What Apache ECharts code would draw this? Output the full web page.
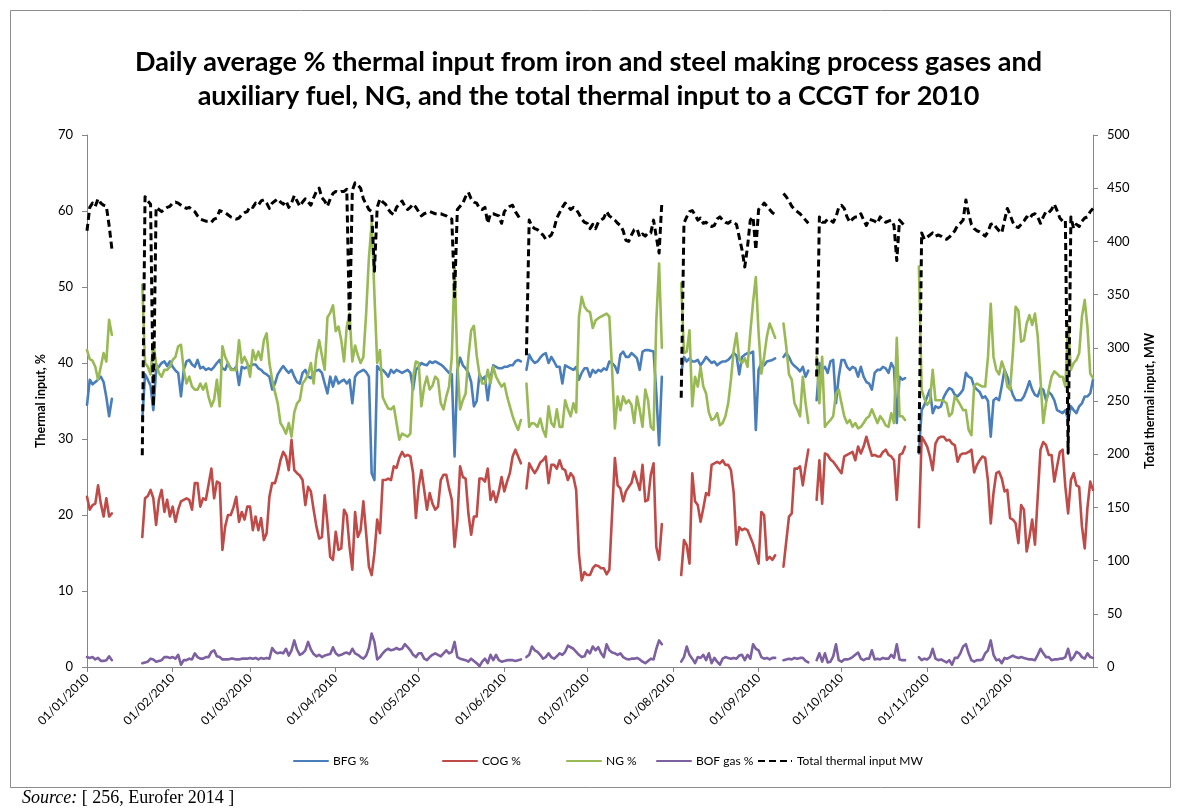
<!DOCTYPE html>
<html>
<head>
<meta charset="utf-8">
<script src="https://cdn.jsdelivr.net/npm/echarts@6/dist/echarts.min.js"></script>
<style>
html,body{margin:0;padding:0;background:#fff;}
#chart{width:1177px;height:809px;}
</style>
</head>
<body>
<div id="chart"></div>
<script>
const _ = null;
const YEAR = 2010;
const DAYS_IN_MONTH = [31,28,31,30,31,30,31,31,30,31,30,31];
const LEFT_TICKS = {min:0, max:70, step:10};
const RIGHT_TICKS = {min:0, max:500, step:50};

// Daily values, one sub-array per month (Jan..Dec)
const BFG_PCT = [
 [34.5,37.8,37.2,37.5,37.8,38.2,37.5,35.5,33,35.3,_,_,_,_,_,_,_,_,_,_,32.5,38.5,37.8,37,33.8,39,39.5,40,40.2,39.6,40.2],
 [39.5,39.0,38.7,35.6,39.1,40.2,40.4,39.8,39.5,40.4,39.3,39.5,39.1,39.3,39.1,39.5,40.0,40.4,39.3,39.1,40.0,39.3,39.1,39.5,37.1,39.5,39.3,39.5],
 [39.6,39.8,39.8,39.3,39.1,38.7,38.5,38.2,36.5,37.3,38.5,39.1,39.6,39.1,38.7,39.1,38.2,37.5,37.3,38.7,39.1,38.2,38.0,38.7,39.0,39.1,38.7,37.3,36.0,38.2,36.9],
 [38.2,37.3,37.6,37.8,37.3,37.8,34.7,38.2,38.7,38.9,39.1,38.8,38.2,25.5,24.6,39.6,39.1,39.1,38.7,38.2,39.1,38.7,39.1,38.9,38.7,38.9,39.1,38.7,36.5,39.1],
 [39.5,40,39.8,39.7,40.2,40,40.2,40,39.8,39.5,39.1,38.7,38.5,27.7,39.1,40.7,39.7,39.3,38.7,37.5,34.3,35,38.5,37.8,38.2,35.1,38,39.7,39.5,39.3,39.3],
 [39.5,39.5,39.7,39.7,40.2,40.4,40.2,_,39.1,41.1,40.4,40,40.2,40.7,41.1,41.3,40,40.8,40.2,39.5,39.5,37.3,39.7,39.5,39.3,39.1,39.5,37.8,38.7,39.3],
 [39.3,38.2,39.1,38.7,39.1,38.9,39.3,39.1,40.2,40,39.6,38.7,41.1,41.5,40.8,40.8,41.3,41,40.6,39.1,41.5,41.7,41.7,41.6,41.5,36,29.2,38.2,_,_,_],
 [_,_,_,38.7,40.8,40.2,40.6,40.2,40.2,40.4,39.7,40.2,40.8,40.4,40,40.2,39.7,40,40.2,40.2,40.4,40.8,41.3,41,38.5,40.8,41.1,41.3,41.3,41.5,31.2],
 [39.1,40,39.7,40.2,40.3,40.4,40.6,_,_,40.8,41.3,40.8,40,39.6,39.3,38.9,39.5,38.2,39,_,_,35.1,40,39.1,39.5,38.7,40.2,40.4,34.7,38.2],
 [40.4,40.4,39.5,39.1,39.5,39.3,38.2,39.5,38.2,37.5,37.3,36.5,38.7,39.1,39.1,39.5,39.3,38.7,40,39.3,32.1,38.2,37.8,38,_,_,_,_,28.1,33.8,34.5],
 [35.6,36.5,33.4,34.3,34.1,34.3,35.5,36.2,36.7,36.5,35.8,35.6,36,36.5,38.7,38.2,38,36.9,36.5,36.2,35.4,35.6,35,30.3,35.1,35.4,35.1,37,39.1,38.2],
 [36.9,35.8,35.1,35.1,35.1,35.6,36.5,37.6,36.5,35.8,35.6,36.7,36.5,35.1,36.2,35.8,35.1,33.8,33.6,33.4,33.8,32.5,34.3,33.8,33.4,34.3,34.7,35.6,35.6,36,37.8]
];
const COG_PCT = [
 [22.4,20.7,21.3,21.5,23.9,21.5,19.8,22.2,19.8,20.2,_,_,_,_,_,_,_,_,_,_,17.1,22.2,22.5,23.3,22.2,18.7,22,23.3,20.4,22,19.8],
 [21.1,19.1,20.7,21.8,22,22.2,22,20.7,24.2,24.2,21.1,22.2,22,24,26.1,22.2,24.4,24.2,15.4,18.5,20,20,21,22.4,19.1,20.4,19.4,21.1],
 [21.1,18.0,19.8,18.0,19.6,16.7,17.6,22.4,24.2,24.2,25.5,27.2,28.3,27.7,25.9,29.9,25.9,25.5,25.2,24.6,21.3,23.7,23.1,20.7,18.5,16.9,17.1,22.6,18.9,14.5,14.1],
 [17.8,15.4,15.6,20.7,20,15.8,12.8,20.4,17.1,18,21.8,17.6,13.2,12.1,15,19.4,17.6,24.6,24.6,24.8,24.6,26.4,26.2,27.5,28.3,27.7,27.9,27.7,25.5,19.6],
 [23.7,25.9,23.3,20.7,22.9,21.5,20.7,21.1,24.6,25.3,25.3,23.5,22,15.8,19.4,26.4,25,24.8,20.2,17.4,19.8,19.8,24.8,24.8,24.4,26.1,22,23.1,21.7,23.1,25],
 [23.1,24.4,25.5,27.7,28.6,27.7,26.8,_,23.5,26.8,26.1,25.5,26.1,26.9,27.2,27.7,24.2,26.6,26.6,26.1,27.2,26.1,25.9,24.6,25.5,25,23.3,14.9,11.4,12.5],
 [12.1,12.1,13,13.4,13.3,13,13,12.2,12.8,20.2,27.5,23.9,23.5,21.8,23.1,23.7,24.2,25.7,24.5,23.3,26.6,21.8,22,25.3,26.8,15.8,14.1,18.8,_,_,_],
 [_,_,_,12.1,16.7,16,13.6,25.5,21.8,21.3,19.1,20.9,22.9,22.6,26.6,26.8,27,26.8,27.2,26.6,26.6,25.9,22.9,16.1,18.4,18,18.2,18,17.1,16.2,14.9],
 [13.6,20.4,20,14.1,14.5,14.1,14.7,_,_,13.2,16.5,19.8,20.2,26.1,26.1,26.4,23.9,26.4,28.6,_,_,22,27.2,21.5,28.1,27.9,27.3,27,26.5,26],
 [25.5,27.7,27.9,28.1,28.3,27.2,29,28.1,29,30.3,29,27.8,27.9,27.7,27.7,28.3,28.6,27.9,27.7,27.2,22,27.9,28.1,29,_,_,_,_,18.4,30.3,29.7],
 [29,27.7,25.9,29.4,30.1,30.3,30.3,29.8,29.9,29.4,29.2,27,27.9,28.1,28.1,28.3,28.6,25.6,26.6,27.2,27.7,27.5,24.5,18.9,22.9,25.5,25.7,24.8,23.1,23.3],
 [19.6,19.4,18.9,16.3,21.3,20.7,15.2,17.1,19.4,16.1,22.4,28.6,29.6,29.2,27.9,27.9,24.4,26.4,28.3,28.6,23.7,20.2,24.6,25.5,23.9,23.7,18.5,15.6,21,24.4,23.3]
];
const NG_PCT = [
 [41.7,40.5,40.3,39.5,37.8,39.5,41.3,40.2,45.7,43.7,_,_,_,_,_,_,_,_,_,_,50.3,40,39.5,38.5,42.6,40,38.7,38.2,39.1,39.1,39.5],
 [40.4,40.8,42.2,42.4,39.1,37.3,38.2,36.9,36.5,36.5,37.3,36.5,37.3,35.5,34.3,35.2,37.8,34.3,42.2,40.8,40,39.1,39.1,39.1,43,40,40.8,40],
 [38.2,41.7,40.4,41.5,40.4,43,43.9,40,37.8,36.2,34.7,32.1,31.5,30.7,32.1,30.3,33.5,34.7,35.1,37.3,37.8,38.5,40,37.3,41,43,41,39.1,46,46.6,47.6],
 [44.2,44.8,43,40.2,44.8,46.5,40.2,42.3,41,40,40.8,46.5,53.8,58.4,49,40,41.7,35.5,34.7,34,33.9,34.3,32.1,29.9,30.7,30.5,30.3,30.7,38.2,40.2],
 [40,34.3,36.9,38.2,36.5,37,38.2,37.8,34.7,33.9,35.6,36.9,40.8,52.9,40,33.9,35.1,36,40.8,44.3,44.9,41,38.5,37.3,37.3,39.1,37.3,39.5,38.2,37.5,36.9],
 [37.3,35.6,34.3,33,32,31.2,32.5,_,37.3,31.6,32.1,32,31.6,32.7,31.2,30.3,34.3,32.1,31.6,33.9,31.6,31.6,35.1,33.9,33,34.7,33.5,46.1,48.7,47.4],
 [46.9,46.7,44.6,45.6,45.9,46.1,46.3,46.5,46.1,39.1,31.4,35.6,33.8,35.6,34.7,35.1,34.5,32.1,35.6,33.8,31.6,36.5,35.1,31.6,31.2,45.6,53.1,42,_,_,_],
 [_,_,_,50.5,41.3,41.5,44.3,34.3,38.2,36.9,39.5,36.9,36,33.5,32.5,32.7,33.4,31.8,32.1,33,34.7,37.8,41.7,43.9,40.5,40,40.6,39.5,44,48,51.3],
 [44,38.6,40.8,43.5,45.2,44.3,43.3,_,_,45.2,42.2,38.5,37.8,34.7,33.9,33,38.2,34.7,32.1,_,_,40.8,34.7,40.8,31.6,32.1,32.5,33,36,36.5],
 [34.7,33,32.1,32.5,31.6,32.1,31.4,31.6,32.1,32.7,33,33.9,33,32.1,33,32.5,31.8,31.6,33.4,32.1,43.3,33,33,32.5,_,_,_,_,52.7,36.5,35.3],
 [34.5,35,39.1,35.1,35.1,35.1,35,34.7,33,33.4,35.6,35.1,34.5,33.8,33.8,31.2,30.5,37,37.3,37.1,36.9,36.9,40.8,47.8,40.8,39.1,38.5,40.2,39.1,36.9],
 [36.5,41.3,47.4,46.9,42.8,43,45.2,46.3,45,46.5,43.5,37.8,32.1,34.7,36.5,38.2,38.9,38.6,38.2,38.2,36.9,45,39.1,40,40.4,41.3,46.1,48.3,44.7,38.6,38]
];
const BOF_PCT = [
 [1.3,1.2,1.3,1.0,1.2,0.8,0.8,0.9,1.4,0.9,_,_,_,_,_,_,_,_,_,_,0.5,0.6,0.7,1.1,1.0,0.7,0.8,0.9,1.3,1.3,1.2],
 [1.3,1.1,1.6,0.3,0.9,0.9,1.1,1.0,1.8,1.3,1.1,1.1,1.3,1.3,2.0,2.2,1.4,1.3,1.0,1.0,1.0,1.1,1.1,1.0,1.0,1.1,1.1,1.1],
 [1.2,1.1,1.2,1.0,1.2,1.1,1.2,1.1,2.5,2.0,1.8,1.9,1.8,2.4,1.5,2.2,3.5,2.3,1.6,1.8,2.2,3.3,2.3,1.7,1.4,1.6,1.3,1.5,1.6,1.7,2.6],
 [1.8,1.5,1.6,1.8,1.9,1.7,2.4,1.8,1.6,1.3,1.1,1.5,2.5,4.4,3.3,1.0,1.3,1.8,2.2,2.4,2.2,2.3,2.5,2.3,2.4,3.0,2.6,2.2,1.6,1.3],
 [1.8,1.8,1.1,0.9,1.3,1.6,1.8,1.6,1.4,1.8,2.2,1.8,2.0,3.3,1.3,1.1,1.0,0.9,0.7,1.1,0.8,0.5,0.1,0.7,1.1,0.5,1.6,0.9,1.6,0.9,0.7],
 [0.8,0.9,0.9,0.9,0.8,0.9,1.0,_,1.3,1.6,2.7,2.2,2.0,1.6,1.1,1.3,1.8,1.3,1.1,1.4,1.8,1.6,2.0,2.8,2.6,2.4,2.0,1.6,1.3,1.4],
 [2.2,1.8,2.7,2.2,2.6,1.8,1.3,3.0,2.2,1.9,1.8,1.6,1.8,1.3,1.1,1.0,1.1,1.1,1.2,1.0,0.7,0.5,0.8,1.1,1.0,2.4,3.5,3.0,_,_,_],
 [_,_,_,0.7,1.3,2.7,1.6,1.1,0.5,1.3,1.2,1.6,0.9,1.8,0.5,1.2,0.7,0.3,1.1,1.3,1.2,1.1,1.2,1.1,1.5,1.6,0.9,1.6,1.1,3.0,2.4],
 [2.2,1.3,1.1,1.2,1.0,1.2,1.2,_,_,0.9,1.0,1.1,1.0,1.2,1.1,1.2,1.2,0.8,0.6,_,_,0.9,1.8,0.7,1.8,0.6,0.7,1.4,3.0,0.9],
 [0.7,1.0,1.0,1.1,1.3,1.6,1.9,1.1,0.9,1.1,1.1,2.2,1.0,1.1,1.0,1.2,1.1,1.1,1.6,1.2,3.0,1.0,0.9,0.9,_,_,_,_,1.3,0.9,1.1],
 [1.0,1.3,2.4,1.1,0.9,1.0,0.8,0.6,0.9,0.3,1.2,1.2,1.8,2.7,3.0,1.8,0.9,0.7,0.9,0.9,1.0,1.8,2.2,3.5,1.6,0.9,1.0,0.5,1.2,1.1],
 [1.3,1.5,1.3,1.2,1.3,1.2,1.1,1.0,1.0,0.9,1.6,2.4,1.8,1.3,1.3,0.9,1.0,1.0,1.1,1.1,1.3,2.4,0.9,1.3,2.0,1.8,1.3,1.1,1.8,1.3,1.2]
];
const TOTAL_MW = [
 [410,432,436,433,440,436,434,433,415,393,_,_,_,_,_,_,_,_,_,_,199,442,438,435,245,432,430,428,430,432,433],
 [436,437,436,434,432,431,432,430,428,424,421,420,419,419,418,421,422,429,428,427,425,423,422,421,422,425,427,428],
 [433,432,436,434,438,439,436,431,436,438,440,437,435,438,432,436,443,438,433,437,440,437,434,441,447,450,441,438,433,440,445],
 [447,446,447,447,449,318,448,455,453,450,440,435,430,428,372,432,440,437,435,430,427,425,432,435,438,433,430,432,435,432],
 [428,424,426,427,428,427,426,426,426,425,424,422,421,348,430,433,436,442,446,440,437,436,431,430,432,417,426,426,425,424,417],
 [428,431,433,434,428,424,420,_,293,420,414,412,411,408,406,402,404,406,412,422,427,432,436,433,430,432,430,426,421,418],
 [417,412,416,412,418,420,422,428,424,422,420,417,415,410,401,400,406,411,412,404,407,405,408,408,420,404,389,437,_,_,_],
 [_,_,_,253,417,423,428,429,425,420,422,417,418,415,414,415,421,423,420,418,417,419,418,416,404,392,376,395,420,423,392],
 [430,432,436,433,430,427,425,_,_,445,442,438,433,430,428,426,423,420,417,_,_,273,423,418,418,421,420,418,423,432],
 [434,431,423,418,421,423,423,426,420,415,421,420,419,417,423,420,418,419,420,415,382,420,417,414,_,_,_,_,201,408,402],
 [404,406,408,405,406,405,403,402,404,407,410,415,417,420,439,426,416,412,410,409,407,405,409,416,417,413,410,408,420,431],
 [425,418,414,413,416,419,423,421,425,426,423,417,423,428,427,430,435,429,422,419,420,201,423,412,416,414,419,422,423,428,431]
];

function flatten(months){
  const out = [];
  months.forEach((arr, i) => {
    const n = DAYS_IN_MONTH[i];
    for (let k = 0; k < n; k++) out.push(k < arr.length ? arr[k] : null);
  });
  return out;
}
const pad = n => (n < 10 ? '0' : '') + n;
const DATES = [];
DAYS_IN_MONTH.forEach((n, m) => { for (let d = 1; d <= n; d++) DATES.push(pad(d) + '/' + pad(m + 1) + '/' + YEAR); });

const isMonthStart = (idx, val) => String(val).slice(0, 2) === '01';
const FONT = 'Lato, "Liberation Sans", sans-serif';
const AXIS_COLOR = '#868686';

const chart = echarts.init(document.getElementById('chart'), null, {renderer: 'canvas'});
const mkSeries = (name, data, color, yIdx, extra) => Object.assign({
  name, type: 'line', data: flatten(data), yAxisIndex: yIdx,
  showSymbol: false, symbol: 'none', connectNulls: false,
  lineStyle: {color, width: 2.6, cap: 'round', join: 'round'},
  itemStyle: {color}, z: 2, emphasis: {disabled: true}
}, extra || {});

const legendBase = (name, left) => ({
  data: [name], left, top: 755, padding: 0, itemWidth: 34, itemHeight: 12, itemGap: 0,
  itemStyle: {opacity: 0},
  textStyle: {fontFamily: FONT, fontSize: 12, color: '#000'}, selectedMode: false
});

chart.setOption({
  animation: false,
  backgroundColor: '#fff',
  title: {
    text: 'Daily average % thermal input from iron and steel making process gases and\nauxiliary fuel, NG, and the total thermal input to a CCGT for 2010',
    left: 'center', top: 40,
    textStyle: {fontFamily: FONT, fontSize: 27, fontWeight: 'bold', color: '#000', lineHeight: 34}
  },
  legend: [
    legendBase('BFG %', 293),
    legendBase('COG %', 442),
    legendBase('NG %', 566),
    legendBase('BOF gas %', 656),
    legendBase('Total thermal input MW', 757)
  ],
  grid: {left: 87, right: 84, top: 135, bottom: 142, containLabel: false},
  xAxis: {
    type: 'category', data: DATES, boundaryGap: false,
    axisLine: {lineStyle: {color: AXIS_COLOR, width: 1}},
    axisTick: {show: true, interval: isMonthStart, length: 5, lineStyle: {color: AXIS_COLOR}},
    axisLabel: {interval: isMonthStart, rotate: 45, fontFamily: FONT, fontSize: 12, color: '#000', margin: 9},
    splitLine: {show: false}
  },
  yAxis: [
    {
      type: 'value', min: LEFT_TICKS.min, max: LEFT_TICKS.max, interval: LEFT_TICKS.step, position: 'left',
      name: 'Thermal input, %', nameLocation: 'middle', nameGap: 40, nameRotate: 90,
      nameTextStyle: {fontFamily: FONT, fontSize: 12.5, fontWeight: 'bold', color: '#000'},
      axisLine: {show: true, lineStyle: {color: AXIS_COLOR}},
      axisTick: {show: true, length: 5, lineStyle: {color: AXIS_COLOR}},
      axisLabel: {fontFamily: FONT, fontSize: 13, color: '#000', margin: 14},
      splitLine: {show: false}
    },
    {
      type: 'value', min: RIGHT_TICKS.min, max: RIGHT_TICKS.max, interval: RIGHT_TICKS.step, position: 'right',
      name: 'Total thermal input, MW', nameLocation: 'middle', nameGap: 50, nameRotate: 90,
      nameTextStyle: {fontFamily: FONT, fontSize: 12.5, fontWeight: 'bold', color: '#000'},
      axisLine: {show: true, lineStyle: {color: AXIS_COLOR}},
      axisTick: {show: true, length: 5, lineStyle: {color: AXIS_COLOR}},
      axisLabel: {fontFamily: FONT, fontSize: 13, color: '#000', margin: 14},
      splitLine: {show: false}
    }
  ],
  series: [
    mkSeries('BFG %', BFG_PCT, '#4A7EBB', 0),
    mkSeries('COG %', COG_PCT, '#BE4B48', 0),
    mkSeries('NG %', NG_PCT, '#98B954', 0),
    mkSeries('BOF gas %', BOF_PCT, '#7D60A0', 0),
    mkSeries('Total thermal input MW', TOTAL_MW, '#000000', 1, {
      lineStyle: {color: '#000', width: 3, type: [7, 4], cap: 'butt', join: 'round'}, z: 3
    })
  ],
  graphic: [
    {type: 'rect', left: 8, top: 8, shape: {width: 1160, height: 777},
     style: {fill: 'none', stroke: '#8c8c8c', lineWidth: 1}, silent: true, z: -1},
    {type: 'text', left: 22, top: 789,
     style: {
       text: '{i|Source:} [ 256, Eurofer 2014 ]',
       rich: {i: {fontStyle: 'italic', fontFamily: '"Liberation Serif", serif', fontSize: 18, fill: '#000'}},
       fontFamily: '"Liberation Serif", serif', fontSize: 18, fill: '#000'
     }}
  ]
});
</script>
</body>
</html>
